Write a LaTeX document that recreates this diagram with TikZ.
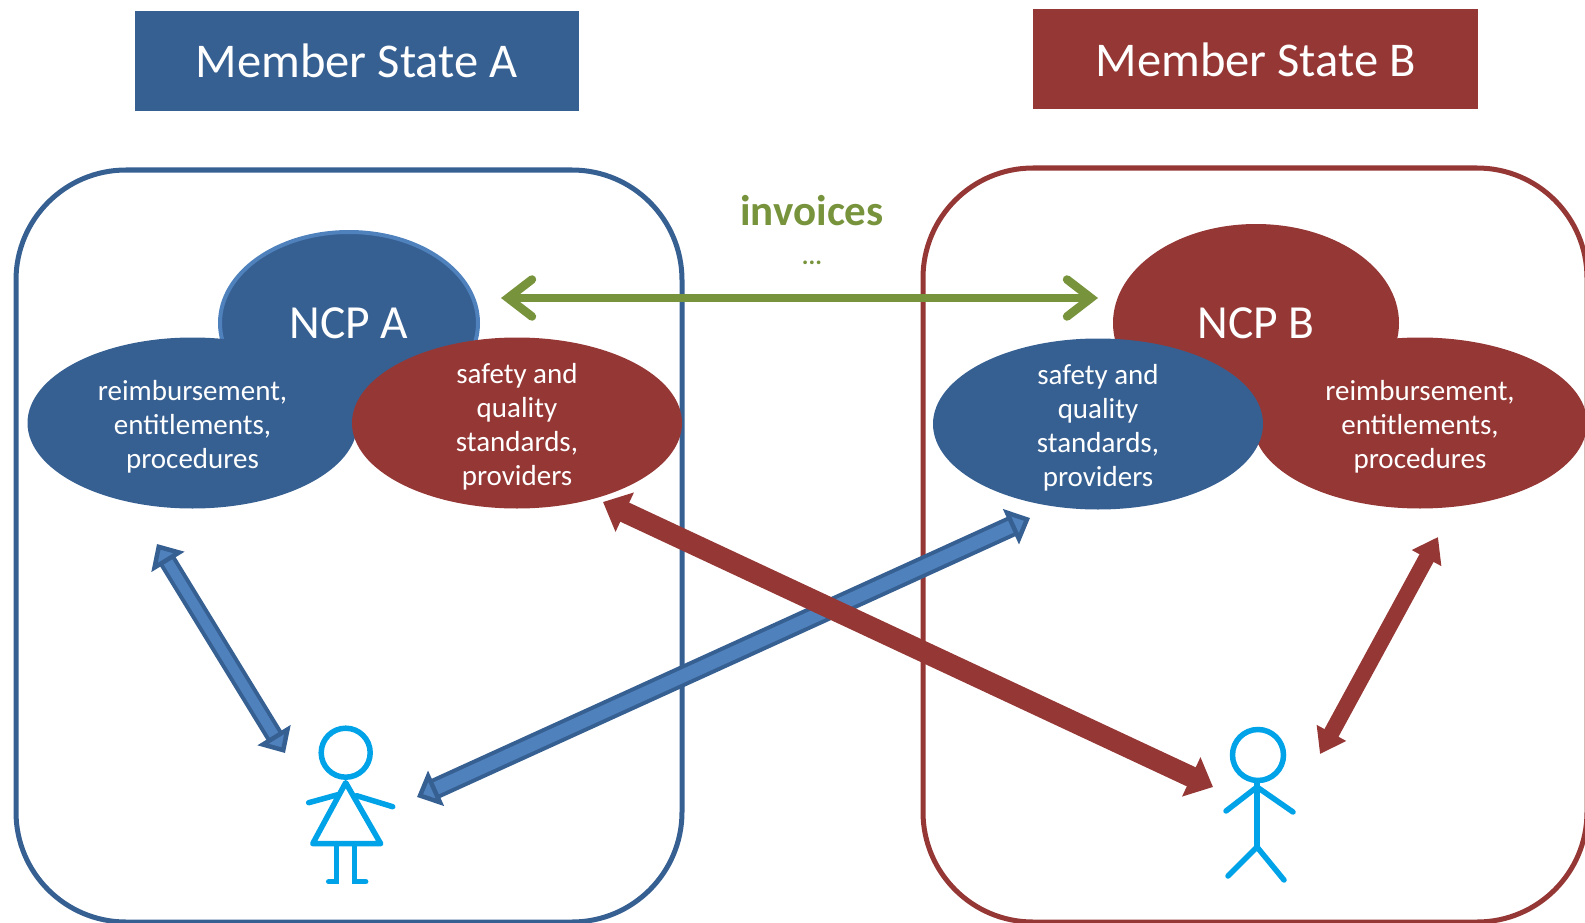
\documentclass[tikz,border=0pt]{standalone}
\usepackage{fontspec}
\setmainfont{Carlito}
\usetikzlibrary{arrows.meta,shapes.geometric}
\definecolor{darkblue}{HTML}{376092}
\definecolor{midblue}{HTML}{4F81BD}
\definecolor{darkred}{HTML}{953735}
\definecolor{leafgreen}{HTML}{77933C}
\definecolor{figcyan}{HTML}{00A2E8}
\newcommand{\topgap}{\mbox{}\\[-7pt]}
\tikzset{
girl/.pic={
  \draw (0,0) circle (24.5);
  \draw[line join=round] (0,30) -- (-33,91) -- (35,91) -- cycle;
  \draw (-37,50) -- (-8,42);
  \draw (47,54) -- (11,43);
  \draw (-9,91) -- (-9,129) -- (-17,129);
  \draw (9,91) -- (9,129) -- (20,129);
  },
boy/.pic={
  \draw (0,0) circle (25.5);
  \draw (-1,27) -- (-1,92);
  \draw (-32,56) -- (-1,32) -- (35,57);
  \draw (-30,121) -- (-1,92) -- (26,125);
  },
statebox/.style={
  minimum width=#1, minimum height=100, inner sep=0pt,
  text=white, font=\fontsize{48.5}{50}\selectfont,
  execute at begin node=\rule{0pt}{34pt}
  },
panel/.style={line width=5pt, rounded corners=110pt},
ncp/.style={
  ellipse, inner sep=0pt, text=white,
  font=\fontsize{47.5}{50}\selectfont,
  execute at begin node=\rule{0pt}{32pt}
  },
cloud/.style={
  ellipse, inner sep=-30pt, align=center, text=white,
  minimum width=330, minimum height=171,
  font=\fontsize{29}{34}\selectfont
  },
bluearrow/.style={
  {Triangle[length=21pt,width=38pt,line width=4.5pt,color=darkblue,fill=midblue]}-{Triangle[length=21pt,width=38pt,line width=4.5pt,color=darkblue,fill=midblue]},
  draw=darkblue, line width=4pt, double=midblue, double distance=#1
  },
redarrow/.style={
  {Triangle[length=24pt,width=#1*2,color=darkred]}-{Triangle[length=24pt,width=#1*2,color=darkred]},
  draw=darkred, line width=#1
  },
greenarrow/.style={
  {Straight Barb[length=24pt,width=37pt,line width=8.5pt,line cap=round,color=leafgreen]}-{Straight Barb[length=24pt,width=37pt,line width=8.5pt,line cap=round,color=leafgreen]},
  draw=leafgreen, line width=8pt
  }
}
\begin{document}
\begin{tikzpicture}[x=1pt,y=-1pt]
  \clip (0,0) rectangle (1585,923);

  \node[statebox=444, fill=darkblue, anchor=north west] (stateA) at (134.5,10.5) {Member State A};
  \node[statebox=445, fill=darkred, anchor=north west] (stateB) at (1033,9) {Member State B};

  \draw[panel, draw=darkblue] (16,170) rectangle (682,922);
  \draw[panel, draw=darkred] (923,168) rectangle (1587,922);

  \node[ncp, fill=darkblue, draw=midblue, line width=4pt, minimum width=258, minimum height=182] (ncpA) at (349,323) {NCP A};
  \node[ncp, fill=darkred, minimum width=286, minimum height=198] (ncpB) at (1256,323) {NCP B};

  \node[cloud, fill=darkblue] (refA) at (192.5,423) {\topgap reimbursement,\\entitlements,\\procedures};
  \node[cloud, fill=darkred] (safeA) at (517,423) {\topgap safety and\\quality\\standards,\\providers};
  \node[cloud, fill=darkred, minimum width=334] (refB) at (1420,423) {\topgap reimbursement,\\entitlements,\\procedures};
  \node[cloud, fill=darkblue] (safeB) at (1098,424) {\topgap safety and\\quality\\standards,\\providers};

  \node[text=leafgreen, font=\bfseries\fontsize{43}{45}\selectfont] (invoices) at (812,211) {invoices};
  \node[text=leafgreen, font=\bfseries\fontsize{25}{27}\selectfont] (dots) at (812,263) {...};

  \pic[draw=figcyan, line width=5.5pt, line cap=round] at (345.7,752.7) {girl};
  \pic[draw=figcyan, line width=5.5pt, line cap=round] at (1258,755) {boy};

  \coordinate (greenL) at (501,298);
  \coordinate (greenR) at (1098,298);
  \coordinate (blueA1) at (157,544);
  \coordinate (blueA2) at (285,753);
  \coordinate (blueB1) at (417,797);
  \coordinate (blueB2) at (1030,518);
  \coordinate (redA1) at (603,502);
  \coordinate (redA2) at (1213,787);
  \coordinate (redB1) at (1438,537);
  \coordinate (redB2) at (1320,754);

  \draw[greenarrow] (greenL) -- (greenR);
  \draw[bluearrow=10pt] (blueA1) -- (blueA2);
  \draw[bluearrow=13pt] (blueB1) -- (blueB2);
  \draw[redarrow=21pt] (redA1) -- (redA2);
  \draw[redarrow=16pt] (redB1) -- (redB2);
\end{tikzpicture}
\end{document}
